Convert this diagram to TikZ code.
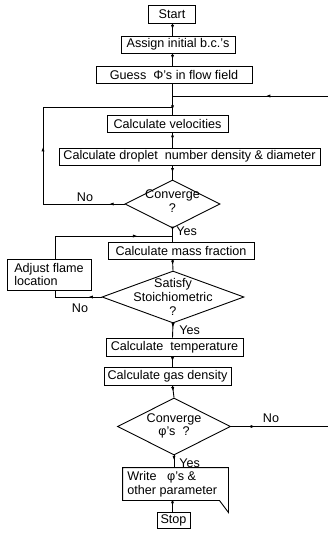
\documentclass[tikz,border=0pt]{standalone}
\usepackage{fontspec}
\setmainfont{Liberation Sans}
\usetikzlibrary{shapes.geometric, decorations.markings, arrows.meta}
\newcommand\flowfont{\fontsize{12.6}{13.6}\selectfont}
\begin{document}
\begin{tikzpicture}[x=1pt, y=-1pt,
  line width=0.9pt,
  >={Latex[length=4.5pt,width=3.2pt]},
  box/.style={draw, line width=0.9pt, inner sep=0pt, font=\flowfont},
  dia/.style={draw, diamond, line width=0.9pt, inner sep=0pt},
  txt/.style={inner sep=0pt, font=\flowfont, align=center},
  lbl/.style={inner sep=0pt, font=\flowfont},
  midarrow/.style={decoration={markings, mark=at position #1 with {\arrow{>}}}, postaction=decorate},
  midarrow/.default=0.5]
\useasboundingbox (0,0) rectangle (328,535);
\fill[white] (0,0) rectangle (328,535);
\coordinate (ax) at (172.5,0);

\node[box, minimum width=47, minimum height=18] (start) at (172,14) {Start};
\node[box, minimum width=114, minimum height=17] (assign) at (178,44.5) {Assign initial b.c.'s};
\node[box, minimum width=156, minimum height=17] (guess) at (174,74.5) {Guess \ Φ's in flow field};
\node[box, minimum width=121, minimum height=17] (vel) at (167.5,123.5) {Calculate velocities};
\node[box, minimum width=261, minimum height=17] (drop) at (189.5,156.5) {Calculate droplet \ number density \& diameter};
\node[dia, minimum width=95, minimum height=48] (conv1) at (172.5,204) {};
\node[txt] (conv1t) at (172.5,201) {Converge\\?};
\node[box, minimum width=146, minimum height=17] (mass) at (181,250.5) {Calculate mass fraction};
\node[box, minimum width=84, minimum height=31, align=left] (adjust) at (49,274.5) {Adjust flame\\location};
\node[dia, minimum width=142, minimum height=52] (sat) at (173,297) {};
\node[txt] (satt) at (173,297) {Satisfy\\Stoichiometric\\?};
\node[box, minimum width=137, minimum height=18] (temp) at (174.5,347) {Calculate \ temperature};
\node[box, minimum width=127, minimum height=18] (gas) at (167.5,376) {Calculate gas density};
\node[dia, minimum width=113, minimum height=57] (conv2) at (174,426.5) {};
\node[txt] (conv2t) at (174,426) {Converge\\φ's \ ?};
\node[inner sep=0pt, minimum width=105, minimum height=32] (write) at (175.5,484) {};
\node[lbl, anchor=west, align=left] (writet) at (127,484.5) {Write \ \ φ's \&\\other parameter};
\draw (write.north west) -- (write.north east) -- ([yshift=-12pt]write.south east) -- ([xshift=-9pt]write.south east) -- (write.south west) -- cycle;
\node[box, minimum width=33, minimum height=16] (stop) at (173.5,520) {Stop};

% main flow
\draw[midarrow] (ax |- start.south) -- (ax |- assign.north);
\draw[midarrow] (ax |- assign.south) -- (ax |- guess.north);
\coordinate (jr) at (172.5,96);
\coordinate (jl) at (172.5,107);
\coordinate (redge) at (328,96);
\coordinate (lcorner) at (43,107);
\draw[midarrow=0.85] (ax |- guess.south) -- (ax |- vel.north);
\draw[midarrow=0.4] (redge) -- (jr);
\draw[decoration={markings, mark=at position 0.05 with {\arrow{>}}, mark=at position 0.45 with {\arrow{>}}}, postaction=decorate]
  (conv1.west) -- (conv1.west -| lcorner) -- (lcorner) -- (jl);
\draw[midarrow] (ax |- vel.south) -- (ax |- drop.north);
\draw[midarrow] (ax |- drop.south) -- (conv1.north);
\node[lbl] (no1) at (85,197) {No};
\coordinate (jm) at (172.5,236);
\coordinate (al) at (55,236);
\draw[midarrow=0.2] (conv1.south) -- (ax |- mass.north);
\node[lbl, anchor=west] (yes1) at (176,231) {Yes};
\draw[midarrow=0.75] (adjust.north -| al) -- (al) -- (jm);
\draw[midarrow] (ax |- mass.south) -- (sat.north);
\draw[midarrow=0.25] (sat.west) -- (sat.west -| al) -- (al |- adjust.south);
\node[lbl] (no2) at (80,308) {No};
\draw[midarrow=0.3] (sat.south) -- (ax |- temp.north);
\node[lbl, anchor=west] (yes2) at (179,330) {Yes};
\draw[midarrow] (ax |- temp.south) -- (ax |- gas.north);
\draw[midarrow] (ax |- gas.south) -- (conv2.north);
\coordinate (redge2) at (328,426.5);
\draw[midarrow=0.25] (conv2.east) -- (redge2);
\node[lbl] (no3) at (271,418) {No};
\draw[midarrow=0.4] (conv2.south) -- (write.north -| conv2.south);
\node[lbl, anchor=west] (yes3) at (179,463) {Yes};
\draw[midarrow] (ax |- write.south) -- (ax |- stop.north);
\end{tikzpicture}
\end{document}
